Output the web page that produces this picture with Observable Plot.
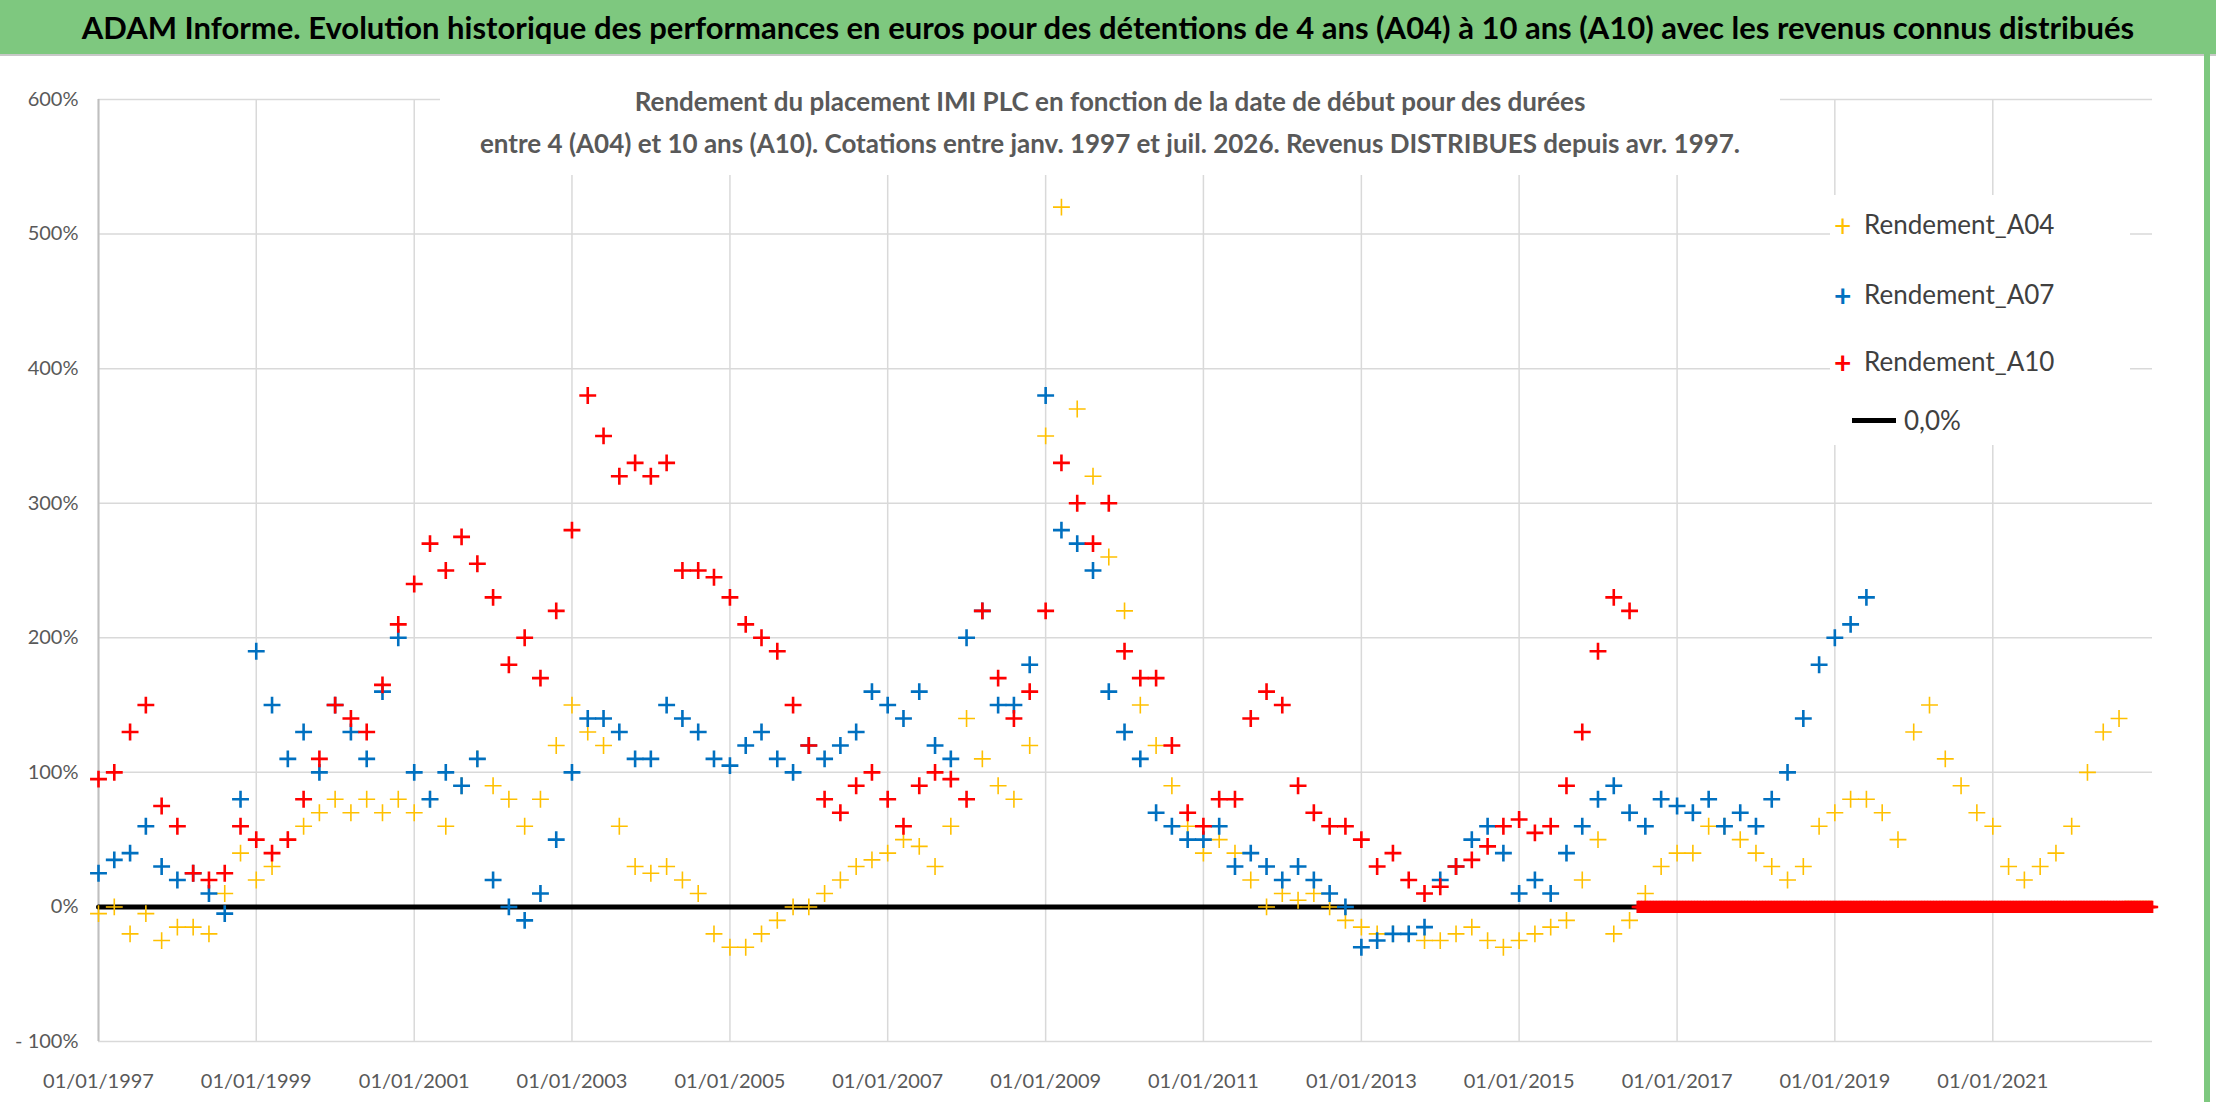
<!DOCTYPE html>
<html><head><meta charset="utf-8">
<script src="https://cdn.jsdelivr.net/npm/d3@7"></script>
<script src="https://cdn.jsdelivr.net/npm/@observablehq/plot@0.6"></script>
<style>
body{margin:0;background:#fff;width:2216px;height:1102px;overflow:hidden;position:relative;font-family:"Open Sans",sans-serif}
#title{position:absolute;left:0;top:0;width:2216px;height:54px;background:#7ec87f;color:#000;font:bold 31px Lato,sans-serif;text-align:center;line-height:54px;border-bottom:2px solid #c8c8c8}
#chart{position:absolute;left:0;top:0}
#sub{position:absolute;left:440px;top:80px;width:1340px;height:95px;background:#fff;color:#595959;font:bold 26px Lato,sans-serif;text-align:center;line-height:42px;white-space:nowrap}
#legend{position:absolute;left:1830px;top:195px;width:300px;height:250px;background:#fff;font:26px Lato,sans-serif;color:#404040}
.li{position:absolute;left:0;height:30px;line-height:30px}
.mk{position:absolute;font-weight:bold;font-size:30px}
#rbar{position:absolute;left:2204px;top:54px;width:6px;height:1048px;background:#7ec87f}
</style></head><body>
<div id="chart"></div>
<div id="title">ADAM Informe. Evolution historique des performances en euros pour des détentions de 4 ans (A04) à 10 ans (A10) avec les revenus connus distribués</div>
<div id="sub">Rendement du placement IMI PLC en fonction de la date de début pour des durées<br>entre 4 (A04) et 10 ans (A10). Cotations entre janv. 1997 et juil. 2026. Revenus DISTRIBUES depuis avr. 1997.</div>
<div id="legend"></div>
<div id="rbar"></div>
<script>
// values in %, sampled every 0.2 year starting 1997.0
const startYear = 1997, step = 0.2;
const a04 = [-5,0,-20,-5,-25,-15,-15,-20,10,40, 20,30,50,60,70,80,70,80,70,80, 70,80,60,90,110,90,80,60,80,120,
 150,130,120,60,30,25,30,20,10,-20, -30,-30,-20,-10,0,0,10,20,30,35, 40,50,45,30,60,140,110,90,80,120,
 350,520,370,320,260,220,150,120,90,60, 40,50,40,20,0,10,5,10,0,-10, -15,-20,-20,-20,-25,-25,-20,-15,-25,-30,
 -25,-20,-15,-10,20,50,-20,-10,10,30, 40,40,60,60,50,40,30,20,30,60, 70,80,80,70,50,130,150,110,90,70,
 60,30,20,30,40,60,100,130,140];
const a07 = [25,35,40,60,30,20,25,10,-5,80, 190,150,110,130,100,150,130,110,160,200, 100,80,100,90,110,20,0,-10,10,50,
 100,140,140,130,110,110,150,140,130,110, 105,120,130,110,100,120,110,120,130,160, 150,140,160,120,110,200,220,150,150,180,
 380,280,270,250,160,130,110,70,60,50, 50,60,30,40,30,20,30,20,10,0, -30,-25,-20,-20,-15,20,30,50,60,40,
 10,20,10,40,60,80,90,70,60,80, 75,70,80,60,70,60,80,100,140,180, 200,210,230];
const a10 = [95,100,130,150,75,60,25,20,25,60, 50,40,50,80,110,150,140,130,165,210, 240,270,250,275,255,230,180,200,170,220,
 280,380,350,320,330,320,330,250,250,245, 230,210,200,190,150,120,80,70,90,100, 80,60,90,100,95,80,220,170,140,160,
 220,330,300,270,300,190,170,170,120,70, 60,80,80,140,160,150,90,70,60,60, 50,30,40,20,10,15,30,35,45,60,
 65,55,60,90,130,190,230,220];
const zeroA10From = "2016-07-01", zeroA04From = "2022-09-01", zeroEnd = "2023-01-10";
const xTicks = [1997,1999,2001,2003,2005,2007,2009,2011,2013,2015,2017,2019,2021];
const yTicks = [-100,0,100,200,300,400,500,600];
const series = [
 {name:"Rendement_A04", color:"#ffc000", values:a04, zeroFrom:zeroA04From, sw:1.6},
 {name:"Rendement_A07", color:"#0070c0", values:a07, zeroFrom:null, sw:2.6},
 {name:"Rendement_A10", color:"#ff0000", values:a10, zeroFrom:zeroA10From, sw:2.6}
];
const toDate = t => { const y = Math.floor(t + 1e-9); const f = t - y;
  return new Date(Date.UTC(y,0,1) + f*365.25*864e5); };
const marks = [];
const xd = [new Date(Date.UTC(1997,0,1)), new Date(zeroEnd)];
marks.push(Plot.ruleY(yTicks, {stroke:"#d9d9d9", strokeWidth:1.5}));
marks.push(Plot.ruleX(xTicks.map(y=>new Date(Date.UTC(y,0,1))), {stroke:"#d9d9d9", strokeWidth:1.5}));
marks.push(Plot.ruleX([xd[0]], {stroke:"#bfbfbf", strokeWidth:2}));
marks.push(Plot.line([{d:xd[0],v:0},{d:new Date(zeroA10From),v:0}], {x:"d", y:"v", stroke:"#000", strokeWidth:5}));
for (const s of series) {
  const pts = s.values.map((v,i)=>({d:toDate(startYear+i*step), v}));
  marks.push(Plot.dot(pts, {x:"d", y:"v", symbol:"plus", r:5.5, stroke:s.color, strokeWidth:s.sw}));
  if (s.zeroFrom) {
    const z = d3.utcWeek.range(new Date(s.zeroFrom), new Date(zeroEnd)).map(d=>({d, v:0}));
    marks.push(Plot.dot(z, {x:"d", y:"v", symbol:"plus", r:4, stroke:s.color, strokeWidth:s.sw}));
  }
}
marks.push(Plot.text(yTicks, {x:xd[0], y:d=>d, text:d=>d===-100?"- 100%":d+"%", textAnchor:"end", dx:-20, fill:"#595959", fontSize:20}));
marks.push(Plot.text(xTicks, {x:y=>new Date(Date.UTC(y,0,1)), y:-100, text:y=>"01/01/"+y, dy:40, fill:"#595959", fontSize:20}));
const chart = Plot.plot({
  width:2216, height:1102, marginLeft:98, marginRight:64, marginTop:99, marginBottom:61,
  style:{fontFamily:"Lato, sans-serif", background:"transparent", overflow:"visible"},
  x:{type:"utc", domain:xd, axis:null},
  y:{domain:[-100,600], axis:null},
  marks
});
document.getElementById("chart").appendChild(chart);
const lg = document.getElementById("legend");
const ys = [14, 84, 151, 210];
series.forEach((s,i)=>{
  lg.insertAdjacentHTML("beforeend", `<div class="mk" style="left:4px;top:${ys[i]-2}px;color:${s.color};font-weight:${i?'bold':'normal'}">+</div><div class="li" style="left:34px;top:${ys[i]}px">${s.name}</div>`);
});
lg.insertAdjacentHTML("beforeend", `<div style="position:absolute;left:22px;top:${ys[3]+13}px;width:44px;height:5px;background:#000"></div><div class="li" style="left:74px;top:${ys[3]}px">0,0%</div>`);
</script></body></html>
